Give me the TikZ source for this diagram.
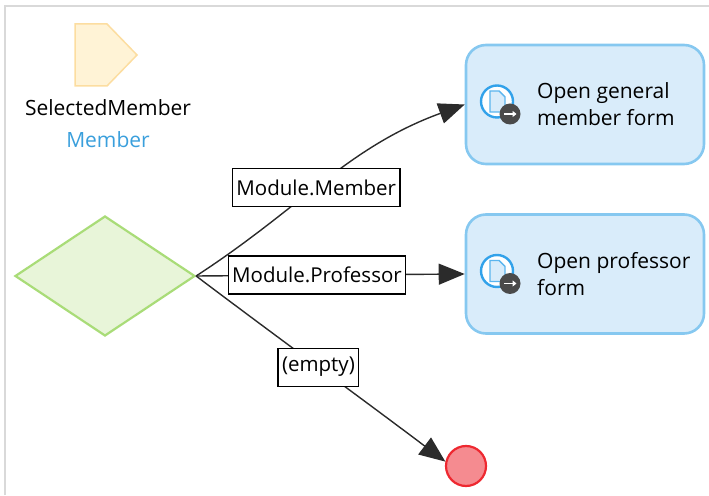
\documentclass[tikz,border=0pt]{standalone}
\usepackage{fontspec}
\setmainfont{Open Sans}
\usetikzlibrary{shapes.geometric,arrows.meta}
\definecolor{framegray}{HTML}{D9D9D9}
\definecolor{paramfill}{HTML}{FFF3D6}
\definecolor{paramdraw}{HTML}{FCDDA0}
\definecolor{decfill}{HTML}{E8F5D9}
\definecolor{decdraw}{HTML}{A9DC78}
\definecolor{actfill}{HTML}{D9ECFA}
\definecolor{actdraw}{HTML}{86C8F0}
\definecolor{endfill}{HTML}{F58B90}
\definecolor{enddraw}{HTML}{EE2830}
\definecolor{membblue}{HTML}{3A9FDC}
\definecolor{iconblue}{HTML}{32A2EA}
\definecolor{icondark}{HTML}{4A4A4A}
\definecolor{edgecol}{HTML}{2B2B2B}
\tikzset{
  txt/.style={font=\fontsize{21}{24}\selectfont, inner sep=0pt},
  actbox/.style={draw=actdraw, fill=actfill, line width=2.6pt, rounded corners=20pt,
    minimum width=238pt, minimum height=119pt},
  lbl/.style={draw=black, fill=white, line width=1.2pt, inner xsep=4pt, inner ysep=2pt,
    font=\fontsize{20.5}{24}\selectfont, minimum height=38pt},
  flow/.style={draw=edgecol, line width=1.4pt, -{Triangle[length=26pt,width=21pt]}},
  actxt/.style={font=\fontsize{21}{27}\selectfont, align=left, anchor=west, inner sep=0pt},
}
\begin{document}
\begin{tikzpicture}[x=1pt,y=1pt]
\useasboundingbox (0,0) rectangle (709,495);
% frame
\draw[framegray, line width=2pt] (5,0) -- (5,489) -- (709,489);
% parameter
\draw[paramdraw, fill=paramfill, line width=1.5pt] (75,471) -- (107,471) -- (137,440) -- (107,409) -- (75,409) -- cycle;
\node[txt] (pname) at (108,387) {SelectedMember};
\node[txt, text=membblue] (ptype) at (108,355) {Member};
% decision
\node[diamond, draw=decdraw, fill=decfill, line width=2.2pt, minimum width=180pt, minimum height=120pt, inner sep=0pt, aspect=1.5] (dec) at (105,219) {};
% actions
\node[actbox] (act1) at (585,390.5) {};
\node[actbox] (act2) at (585,221) {};
\node[actxt] (t1) at (537,390.5) {Open general\\member form};
\node[actxt] (t2) at (537,221) {Open professor\\form};
% icons
\foreach \dy/\nm in {0/a,-169.5/b}{
  \begin{scope}[yshift=\dy]
    \draw[iconblue, fill=white, line width=2.4pt] (497,393.5) circle (16);
    \draw[iconblue!80, fill=actfill, line width=1.4pt] (490,404) -- (499,404) -- (505,398) -- (505,383) -- (490,383) -- cycle;
    \fill[icondark] (510,381) circle (10.5);
    \draw[white, line width=1.8pt, -{Triangle[length=4pt,width=6pt]}] (504,381) -- (516.5,381);
  \end{scope}
}
% end event
\node[circle, draw=enddraw, fill=endfill, line width=2.2pt, minimum size=40pt, inner sep=0pt] (endev) at (466,29) {};
% flows
\draw[flow] (dec.east) to[out=33,in=200] node[lbl, pos=0.46] (l1) {Module.Member} (act1.west);
\draw[flow] (dec.east) -- node[lbl, pos=0.45] (l2) {Module.Professor} (act2.west);
\draw[flow] (dec.east) to[out=-37,in=143] node[lbl, pos=0.49] (l3) {(empty)} (endev.168);
\end{tikzpicture}
\end{document}
